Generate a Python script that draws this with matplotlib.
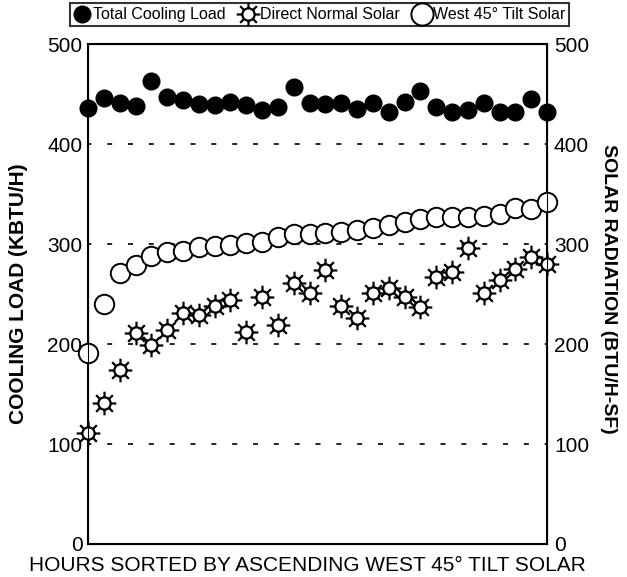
import numpy as np
import matplotlib
matplotlib.use("Agg")
import matplotlib.pyplot as plt
from matplotlib.path import Path
from matplotlib.lines import Line2D

plt.rcParams['font.family'] = ['Liberation Sans', 'DejaVu Sans']

# data, hours sorted by ascending west 45 tilt solar
hours = list(range(30))
cooling_load = [436, 446, 441, 438, 463, 447, 444, 440, 439, 442,
                439, 434, 437, 457, 441, 440, 441, 435, 441, 432,
                442, 453, 437, 432, 434, 441, 432, 432, 445, 432]
direct_normal = [111, 141, 174, 211, 199, 214, 231, 229, 238, 244,
                 212, 247, 219, 261, 251, 274, 238, 226, 251, 256,
                 247, 237, 267, 272, 296, 251, 264, 275, 287, 280]
west_tilt = [191, 240, 271, 279, 288, 292, 293, 297, 298, 299,
             301, 302, 307, 310, 310, 311, 312, 314, 316, 319,
             322, 325, 327, 327, 327, 328, 330, 336, 335, 342]
yticks = [0, 100, 200, 300, 400, 500]

# sun marker: circle with 8 rays
verts = []
codes = []
circ = Path.unit_circle()
for v, c in zip(circ.vertices, circ.codes):
    verts.append(v * 0.52)
    codes.append(c)
for a in np.arange(0, 360, 45):
    t = np.deg2rad(a)
    verts.append((0.52 * np.cos(t), 0.52 * np.sin(t)))
    codes.append(Path.MOVETO)
    verts.append((1.0 * np.cos(t), 1.0 * np.sin(t)))
    codes.append(Path.LINETO)
sun = Path(verts, codes)

fig = plt.figure(figsize=(6.27, 5.77), dpi=100)
ax = fig.add_axes([0.1404, 0.0572, 0.7320, 0.8665])

for y in [100, 200, 300, 400]:
    ax.axhline(y, color='black', lw=1.2, ls=(1, (3, 9.5)), zorder=1)

ax.plot(hours, west_tilt, ls='none', marker='o', ms=14, mfc='white',
        mec='black', mew=1.4, zorder=3, clip_on=False)
ax.plot(hours, direct_normal, ls='none', marker=sun, ms=17, mfc='white',
        mec='black', mew=1.6, zorder=4, clip_on=False)
ax.plot(hours, cooling_load, ls='none', marker='o', ms=12, mfc='black',
        mec='black', zorder=5, clip_on=False)

ax.set_xlim(0, 29)
ax.set_ylim(0, 500)
ax.set_xticks([])
ax.set_yticks(yticks)
ax.tick_params(axis='y', length=0, pad=4, labelsize=15)
for s in ax.spines.values():
    s.set_linewidth(1.5)

ax2 = ax.twinx()
ax2.set_ylim(0, 500)
ax2.set_yticks(yticks)
ax2.tick_params(axis='y', length=0, pad=5, labelsize=15)

ax.set_ylabel("COOLING LOAD (KBTU/H)", fontsize=15, fontweight='bold', labelpad=14)
ax2.set_ylabel("SOLAR RADIATION (BTU/H-SF)", fontsize=14, fontweight='bold',
               rotation=270, labelpad=20)
ax2.yaxis.label.set_y(0.51)
ax.set_xlabel("HOURS SORTED BY ASCENDING WEST 45\u00b0 TILT SOLAR", fontsize=15, labelpad=9)
ax.xaxis.label.set_x(0.477)

handles = [
    Line2D([], [], ls='none', marker='o', ms=12, mfc='black', mec='black'),
    Line2D([], [], ls='none', marker=sun, ms=17, mfc='white', mec='black', mew=1.6),
    Line2D([], [], ls='none', marker='o', ms=16, mfc='white', mec='black', mew=1.4),
]
leg = fig.legend(handles, ["Total Cooling Load", "Direct Normal Solar", "West 45\u00b0 Tilt Solar"],
                 loc='upper center', bbox_to_anchor=(0.51, 1.0), ncol=3, fontsize=11.5,
                 frameon=True, fancybox=False, edgecolor='black', handlelength=1.0,
                 handletextpad=0.2, columnspacing=0.9, borderpad=0.25, borderaxespad=0.2)
leg.get_frame().set_linewidth(1.5)

plt.savefig('out.png', dpi=100)
